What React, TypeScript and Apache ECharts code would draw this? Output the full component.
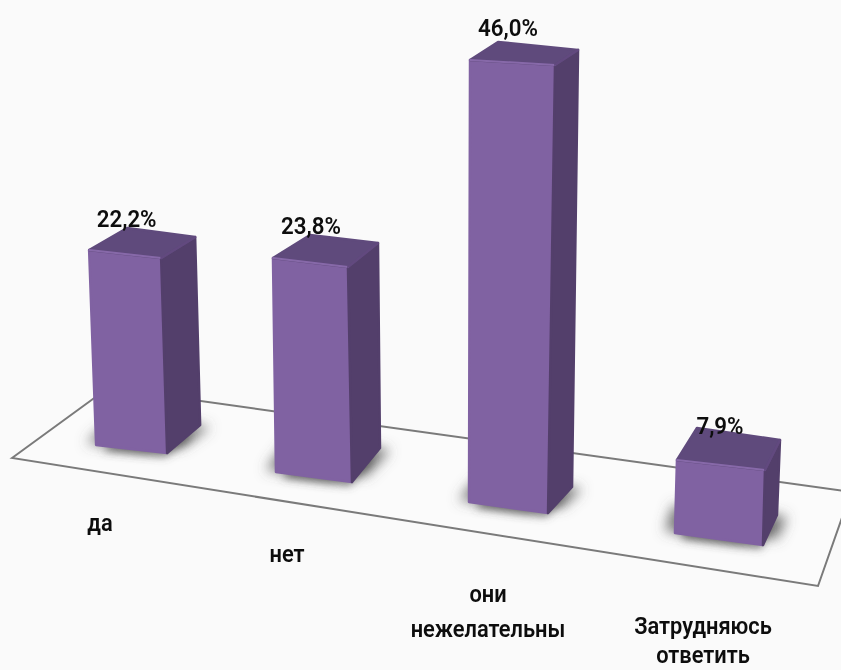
import React, { useEffect, useRef } from "react";
import * as echarts from "echarts";

const categories = ["да", "нет", "они\nнежелательны", "Затрудняюсь\nответить"];
const values = [22.2, 23.8, 46.0, 7.9];

// Perspective layout of each bar (pixels relative to the axis scale)
const offsetX = [-9, -39.4, -56.6, -60.9];
const rise = [225, 198, 168, 137];
const heightScale = [0.878, 0.899, 0.961, 0.924];
const leanX = [-7, -3, 1, 2];
const frontBottom = [[71, 8], [76, 10], [79, 11], [88, 12]];
const sideBottom = [[33, -28], [28, -34], [24, -26], [14, -30]];
const frontTop = [[72, 8], [75, 9], [85, 5], [88, 10]];
const sideTop = [[34, -21], [30, -24], [23, -15], [15, -30]];
const backTop = [[38, -22], [37, -23], [28, -18], [20, -32]];
const valueLabelOffset = [[37.5, -31], [38, -32], [38, -32], [43, -34]];
const catLabelX = [100, 287, 488, 703];
const catLabelY = [[523], [554], [594, 629], [626, 655.5]];
const floorPoints = [[12, 458], [108, 388], [851, 492], [818, 586]];

const FONT = 'Roboto, "Open Sans", sans-serif';

function renderBar(params: any, api: any) {
  const i = params.dataIndex;
  const v = api.value(1);
  const base = api.coord([i, 0]);
  const h = api.size([0, v])[1] * heightScale[i];
  const fbl = [base[0] + offsetX[i], base[1] - rise[i]];
  const fbr = [fbl[0] + frontBottom[i][0], fbl[1] + frontBottom[i][1]];
  const sbr = [fbr[0] + sideBottom[i][0], fbr[1] + sideBottom[i][1]];
  const bbl = [fbl[0] + sideBottom[i][0], fbl[1] + sideBottom[i][1]];
  const ftl = [fbl[0] + leanX[i], fbl[1] - h];
  const ftr = [ftl[0] + frontTop[i][0], ftl[1] + frontTop[i][1]];
  const btr = [ftr[0] + sideTop[i][0], ftr[1] + sideTop[i][1]];
  const btl = [ftl[0] + backTop[i][0], ftl[1] + backTop[i][1]];
  const face = (pts: number[][], fill: any) => ({
    type: "polygon",
    shape: { points: pts },
    style: { fill, stroke: fill, lineWidth: 2.5, lineJoin: "round" },
  });
  const edge = (a: number[], b: number[], color: string) => ({
    type: "line",
    shape: { x1: a[0], y1: a[1], x2: b[0], y2: b[1] },
    style: { stroke: color, lineWidth: 2, lineCap: "round" },
  });
  const txt = (x: number, y: number, text: string, sx: number) => ({
    type: "text",
    x,
    y,
    scaleX: sx,
    style: {
      text,
      fontFamily: FONT,
      fontSize: 24,
      fontWeight: 600,
      fill: "#0D0D0D",
      align: "center",
      verticalAlign: "middle",
      lineHeight: 20,
    },
  });
  const shadow = (ox: number, oy: number, blur: number, color: string) => ({
    type: "polygon",
    shape: { points: [
      [fbl[0] + 6, fbl[1] - 4],
      [fbr[0] - 2, fbr[1] - 6],
      [sbr[0] - 6, sbr[1] + 2],
      bbl,
    ] },
    style: { fill: "#808080", shadowBlur: blur, shadowColor: color, shadowOffsetX: ox, shadowOffsetY: oy },
  });
  const lines = categories[i].split("\n");
  return {
    type: "group",
    children: [
      shadow(-16, 2, 13, "rgba(80,80,80,0.8)"),
      shadow(16, 0, 13, "rgba(80,80,80,0.8)"),
      shadow(0, 10, 9, "rgba(80,80,80,0.7)"),
      face([ftl, ftr, fbr, fbl], "#8062A2"),
      face([ftr, btr, sbr, fbr], "#533F6B"),
      face([ftl, btl, btr, ftr], "#5F4A7C"),
      edge(ftl, ftr, "#8769A9"),
      edge(ftr, btr, "#62497F"),
      txt(ftl[0] + valueLabelOffset[i][0], ftl[1] + valueLabelOffset[i][1], v.toFixed(1).replace(".", ",") + "%", 0.93),
      ...lines.map((line, k) => txt(catLabelX[i], catLabelY[i][k], line, 0.91)),
    ],
  };
}

export default function App() {
  const ref = useRef<HTMLDivElement>(null);
  useEffect(() => {
    document.body.style.margin = "0";
    const chart = echarts.init(ref.current!, undefined, { renderer: "svg" });
    chart.setOption({
      animation: false,
      backgroundColor: "#FAFAFA",
      grid: { left: 0, right: 0, top: 0, bottom: 0 },
      xAxis: { type: "category", data: categories, show: false },
      yAxis: { type: "value", min: 0, max: 67, show: false },
      graphic: [
        {
          type: "polygon",
          z: 0,
          shape: { points: floorPoints },
          style: { fill: "#FBFBFB", stroke: "#7A7A7A", lineWidth: 2, lineJoin: "miter" },
        },
      ],
      series: [
        {
          type: "custom",
          z: 5,
          clip: false,
          encode: { x: 0, y: 1 },
          data: values.map((v, i) => [i, v]),
          renderItem: renderBar,
        },
      ],
    });
    return () => chart.dispose();
  }, []);
  return <div ref={ref} style={{ width: 841, height: 670, filter: "blur(0.6px)" }} />;
}
